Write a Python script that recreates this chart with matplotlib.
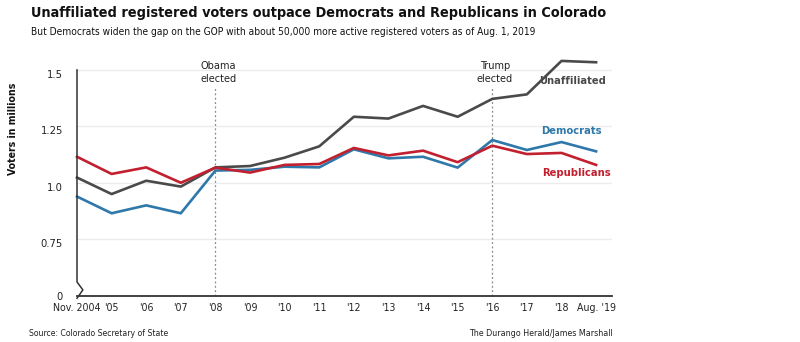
import matplotlib
matplotlib.use("Agg")
import matplotlib.pyplot as plt
from matplotlib import font_manager

# Colorado active registered voters, millions
years = ["Nov. 2004", "'05", "'06", "'07", "'08", "'09", "'10", "'11",
         "'12", "'13", "'14", "'15", "'16", "'17", "'18", "Aug. '19"]
unaffiliated = [1.024, 0.951, 1.010, 0.984, 1.069, 1.075, 1.112, 1.162,
                1.293, 1.285, 1.341, 1.293, 1.372, 1.392, 1.540, 1.534]
democrats = [0.940, 0.866, 0.901, 0.866, 1.055, 1.058, 1.072, 1.069,
             1.149, 1.109, 1.116, 1.068, 1.190, 1.146, 1.181, 1.140]
republicans = [1.116, 1.040, 1.069, 1.001, 1.068, 1.046, 1.080, 1.084,
               1.155, 1.122, 1.143, 1.092, 1.165, 1.128, 1.133, 1.080]
y_ticks = [0.5, 0.75, 1.0, 1.25, 1.5]
y_labels = ["0", "0.75", "1.0", "1.25", "1.5"]
events = [(4, "Obama\nelected"), (12, "Trump\nelected")]

GRAY = "#4a4a4a"
BLUE = "#2f78aa"
RED = "#c2202f"

# pick a narrow font if one is around
fonts = font_manager.fontManager.ttflist
FONT, STRETCH = "DejaVu Sans", "normal"
if any(f.name == "Liberation Sans Narrow" for f in fonts):
    FONT = "Liberation Sans Narrow"
else:
    for f in fonts:
        if f.stretch == "condensed" or "condensed" in f.fname.lower():
            FONT, STRETCH = f.name, "condensed"
            break
plt.rcParams["font.family"] = [FONT, "DejaVu Sans"]
plt.rcParams["font.stretch"] = STRETCH

fig = plt.figure(figsize=(8, 3.42), dpi=100)
ax = fig.add_axes([0.09625, 0.1345, 0.66875, 0.7006])

x = list(range(len(years)))
ax.plot(x, unaffiliated, color=GRAY, lw=1.9, clip_on=False, zorder=3)
ax.plot(x, democrats, color=BLUE, lw=1.9, clip_on=False, zorder=3)
ax.plot(x, republicans, color=RED, lw=1.9, clip_on=False, zorder=4)

ax.set_xlim(0, 15.46)
ax.set_ylim(0.5, 1.56)

for s in ["top", "right", "left"]:
    ax.spines[s].set_visible(False)
ax.spines["bottom"].set_color("#333333")
ax.spines["bottom"].set_linewidth(1.3)

# left axis with a break mark near zero
ax.plot([0, 0, 0.17, 0], [1.5, 0.562, 0.527, 0.49],
        color="#333333", lw=1.1, clip_on=False, zorder=5)

ax.set_yticks(y_ticks)
ax.set_yticklabels(y_labels, fontsize=8, color="#222222")
for lbl in ax.get_yticklabels()[1:]:
    lbl.set_va("top")
ax.set_xticks(x)
ax.set_xticklabels(years, fontsize=7.6, color="#222222")
ax.tick_params(length=0, pad=5)
ax.tick_params(axis="y", pad=10)
ax.yaxis.grid(True, color="#ececec", lw=1)
ax.set_axisbelow(True)

for xi, text in events:
    ax.plot([xi, xi], [0.5, 1.425], color="#888888", lw=0.9, ls=(0, (1.5, 2)), zorder=2)
    ax.text(xi + 0.08, 1.49, text, ha="center", va="center", fontsize=7.8,
            color="#222222", linespacing=1.35)

ax.text(15.3, 1.45, "Unaffiliated", color=GRAY, fontsize=8, fontweight="bold",
        ha="right", va="center")
ax.text(15.15, 1.228, "Democrats", color=BLUE, fontsize=8, fontweight="bold",
        ha="right", va="center")
ax.text(15.43, 1.042, "Republicans", color=RED, fontsize=8, fontweight="bold",
        ha="right", va="center")

fig.text(0.016, 0.623, "Voters in millions", rotation=90, fontsize=7.6,
         fontweight="bold", ha="center", va="center", color="#111111")

fig.text(0.039, 0.95, "Unaffiliated registered voters outpace Democrats and Republicans in Colorado",
         fontsize=10.4, fontweight="bold", ha="left", va="baseline", color="#111111")
fig.text(0.039, 0.898, "But Democrats widen the gap on the GOP with about 50,000 more active registered voters as of Aug. 1, 2019",
         fontsize=7.3, ha="left", va="baseline", color="#111111")
fig.text(0.036, 0.024, "Source: Colorado Secretary of State", fontsize=6.2,
         ha="left", va="center", color="#222222")
fig.text(0.766, 0.024, "The Durango Herald/James Marshall", fontsize=6.4,
         ha="right", va="center", color="#222222")

fig.savefig("out.png", dpi=100, facecolor="white")
